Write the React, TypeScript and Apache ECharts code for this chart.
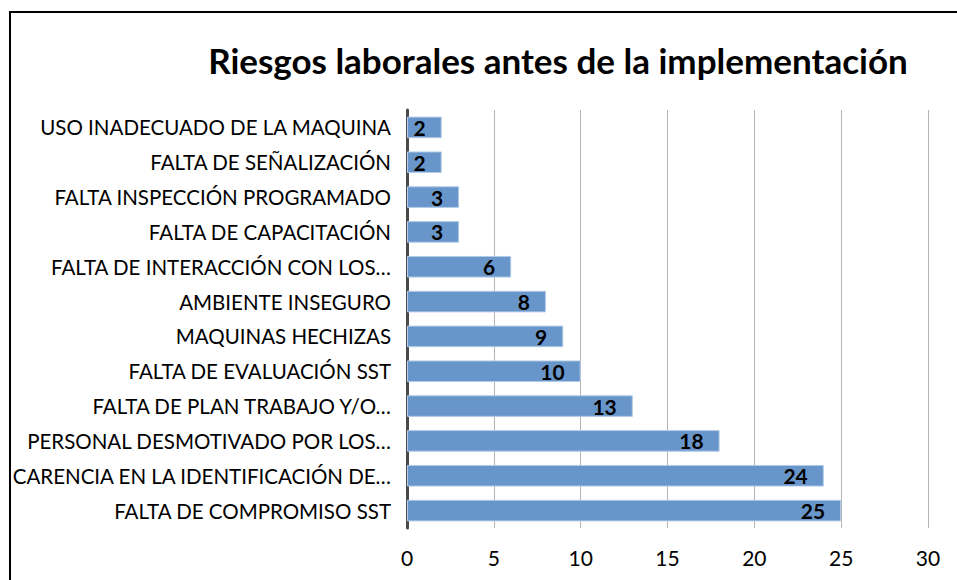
import React, { useEffect, useRef } from "react";
import * as echarts from "echarts";

const categories = [
  "FALTA DE COMPROMISO SST",
  "CARENCIA EN LA IDENTIFICACIÓN DE…",
  "PERSONAL DESMOTIVADO POR LOS…",
  "FALTA DE PLAN TRABAJO Y/O…",
  "FALTA DE EVALUACIÓN SST",
  "MAQUINAS HECHIZAS",
  "AMBIENTE INSEGURO",
  "FALTA DE INTERACCIÓN CON LOS…",
  "FALTA DE CAPACITACIÓN",
  "FALTA INSPECCIÓN PROGRAMADO",
  "FALTA DE SEÑALIZACIÓN",
  "USO INADECUADO DE LA MAQUINA",
];
const values = [25, 24, 18, 13, 10, 9, 8, 6, 3, 3, 2, 2];
const titleText = "Riesgos laborales antes de la implementación";

const FONT = "Lato, 'Open Sans', sans-serif";

export default function App() {
  const ref = useRef<HTMLDivElement>(null);
  useEffect(() => {
    const chart = echarts.init(ref.current!, null, { renderer: "svg" });
    chart.setOption({
      animation: false,
      backgroundColor: "#ffffff",
      title: {
        text: titleText,
        left: 553,
        textAlign: "center",
        top: 37,
        textStyle: { fontFamily: FONT, fontSize: 35, fontWeight: "bold", color: "#000" },
      },
      graphic: [
        {
          type: "rect",
          shape: { x: 10, y: 12, width: 1000, height: 1000 },
          style: { fill: "none", stroke: "#000", lineWidth: 2 },
          silent: true,
        },
      ],
      grid: { left: 407, right: 29, top: 110, bottom: 52, containLabel: false },
      xAxis: {
        type: "value",
        min: 0,
        max: 30,
        interval: 5,
        axisLine: { show: false },
        axisTick: { show: false },
        splitLine: { show: true, lineStyle: { color: "#b5b5b5", width: 1 } },
        axisLabel: { fontFamily: FONT, fontSize: 21, color: "#000", margin: 19 },
      },
      yAxis: {
        type: "category",
        data: categories,
        axisLine: { show: true, lineStyle: { color: "#4a4a4a", width: 3 } },
        axisTick: { show: false },
        axisLabel: { fontFamily: FONT, fontSize: 20.5, color: "#000", margin: 16 },
      },
      series: [
        {
          type: "bar",
          data: values,
          barWidth: "62%",
          itemStyle: { color: "#6996ca", borderColor: "#b3cbe6", borderWidth: 1 },
          label: {
            show: true,
            position: "insideRight",
            distance: 16,
            fontFamily: FONT,
            fontSize: 21,
            fontWeight: "bold",
            color: "#000",
          },
        },
      ],
    });
    return () => chart.dispose();
  }, []);
  return (
    <div
      ref={ref}
      style={{ position: "fixed", left: 0, top: 0, width: 957, height: 580 }}
    />
  );
}
